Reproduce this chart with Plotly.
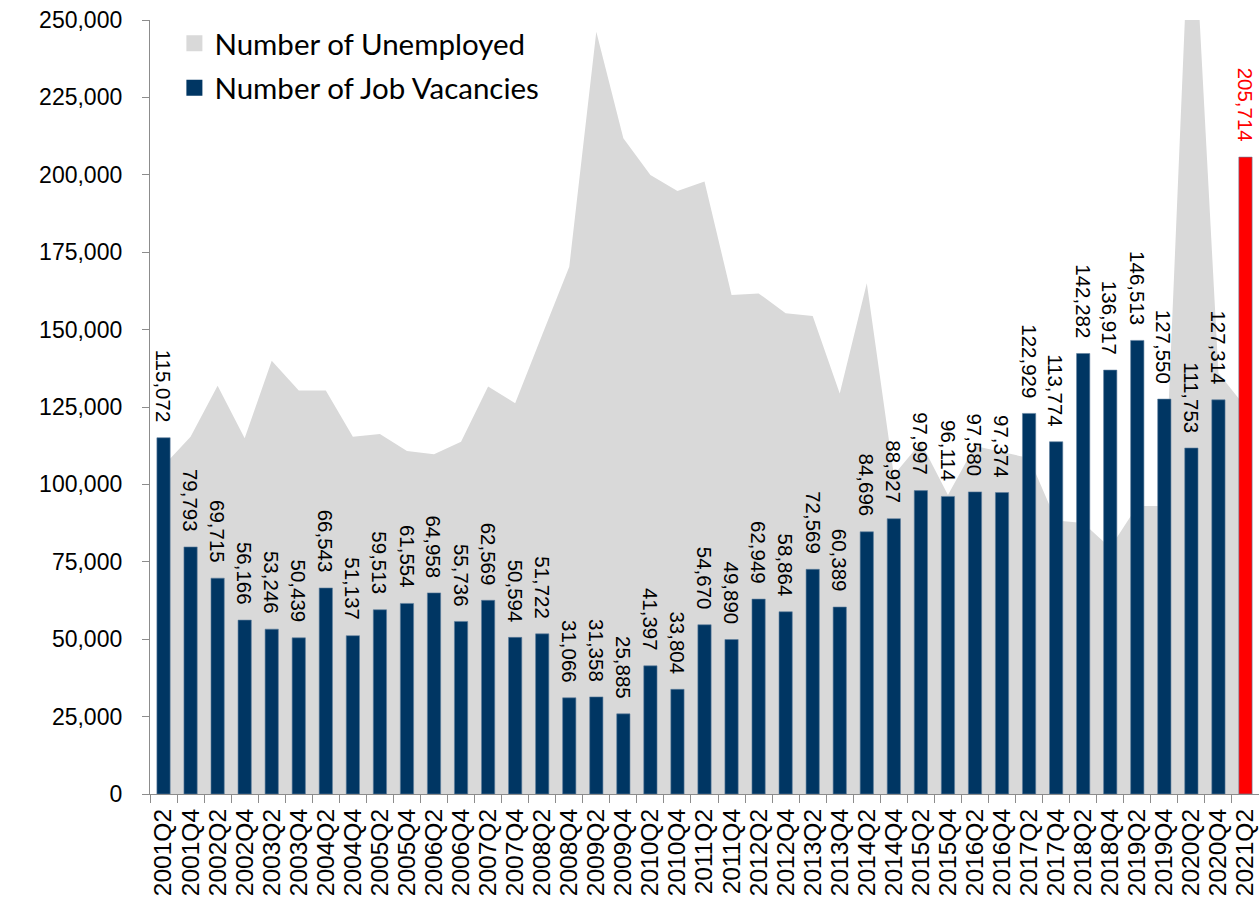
import plotly.graph_objects as go

categories = [
    "2001Q2", "2001Q4", "2002Q2", "2002Q4", "2003Q2", "2003Q4", "2004Q2", "2004Q4",
    "2005Q2", "2005Q4", "2006Q2", "2006Q4", "2007Q2", "2007Q4", "2008Q2", "2008Q4",
    "2009Q2", "2009Q4", "2010Q2", "2010Q4", "2011Q2", "2011Q4", "2012Q2", "2012Q4",
    "2013Q2", "2013Q4", "2014Q2", "2014Q4", "2015Q2", "2015Q4", "2016Q2", "2016Q4",
    "2017Q2", "2017Q4", "2018Q2", "2018Q4", "2019Q2", "2019Q4", "2020Q2", "2020Q4",
    "2021Q2",
]

job_vacancies = [
    115072, 79793, 69715, 56166, 53246, 50439, 66543, 51137,
    59513, 61554, 64958, 55736, 62569, 50594, 51722, 31066,
    31358, 25885, 41397, 33804, 54670, 49890, 62949, 58864,
    72569, 60389, 84696, 88927, 97997, 96114, 97580, 97374,
    122929, 113774, 142282, 136917, 146513, 127550, 111753, 127314,
    205714,
]

unemployed = [
    106000, 115400, 131900, 114900, 139900, 130300, 130300, 115400,
    116300, 110800, 109700, 113800, 131600, 126200, 148300, 170300,
    246200, 211800, 199900, 194800, 197800, 161200, 161700, 155300,
    154400, 129400, 165000, 103000, 113500, 96600, 112400, 110500,
    108500, 88300, 87500, 79500, 93000, 93000, 300000, 136000,
    125000,
]

y_tick_values = [0, 25000, 50000, 75000, 100000, 125000, 150000, 175000, 200000, 225000, 250000]
highlight_category = "2021Q2"

NAVY = "#003663"
RED = "#FF0000"
GREY = "#D9D9D9"
AXIS = "#8C8C8C"
FONT = "Arial, Liberation Sans, sans-serif"
Y_RANGE = [0, 250000]
X_RANGE = [-0.5, len(categories) - 0.5]

bar_colors = [RED if c == highlight_category else NAVY for c in categories]
label_colors = [RED if c == highlight_category else "#000000" for c in categories]

fig = go.Figure()

# area (base axes, drawn underneath)
fig.add_trace(go.Scatter(
    x=categories, y=unemployed, mode="lines", fill="tozeroy",
    line=dict(width=0, color=GREY), fillcolor=GREY,
    name="Number of Unemployed", showlegend=False, hoverinfo="x+y",
    xaxis="x", yaxis="y",
))

# bars on overlaying axes so they are drawn above the area
fig.add_trace(go.Bar(
    x=categories, y=job_vacancies,
    marker=dict(color=bar_colors, line=dict(width=0.6, color="#5f7f9e")),
    name="Number of Job Vacancies", showlegend=False,
    xaxis="x2", yaxis="y2",
))

# legend entries (square swatches)
fig.add_trace(go.Scatter(
    x=[None], y=[None], mode="markers",
    marker=dict(symbol="square", size=16, color=GREY),
    name="Number of Unemployed", legendgroup="u",
))
fig.add_trace(go.Scatter(
    x=[None], y=[None], mode="markers",
    marker=dict(symbol="square", size=16, color=NAVY),
    name="Number of Job Vacancies", legendgroup="v",
))

annotations = []
for c, v, col in zip(categories, job_vacancies, label_colors):
    annotations.append(dict(
        x=c, y=v, xref="x2", yref="y2", text=f"{v:,}", showarrow=False,
        textangle=90, yanchor="bottom", xanchor="center", yshift=13,
        font=dict(family=FONT, size=20.5, color=col),
    ))

fig.update_layout(
    width=1259, height=897,
    margin=dict(l=150, r=0, t=20, b=103),
    paper_bgcolor="white", plot_bgcolor="white",
    bargap=0.51,
    font=dict(family=FONT, color="#000000"),
    annotations=annotations,
    legend=dict(
        x=0.022, y=1.003, xanchor="left", yanchor="top",
        bgcolor="rgba(0,0,0,0)", font=dict(family="Lato, sans-serif", size=29.5, color="#000000"),
        traceorder="grouped", tracegroupgap=3,
    ),
    xaxis=dict(
        type="category", categoryorder="array", categoryarray=categories,
        tickmode="array", tickvals=categories, ticktext=categories,
        showline=True, linecolor=AXIS, linewidth=1.3,
        ticks="outside", tickson="boundaries", ticklen=8, tickcolor=AXIS, tickwidth=1.3,
        tickangle=-90, tickfont=dict(family=FONT, size=24.5, color="#000000"),
        ticklabelstandoff=4,
        showgrid=False, zeroline=False, range=X_RANGE,
    ),
    yaxis=dict(
        range=Y_RANGE, tickvals=y_tick_values, tickformat=",",
        showline=True, linecolor=AXIS, linewidth=1.3,
        ticks="outside", ticklen=7, tickcolor=AXIS, tickwidth=1.3,
        tickfont=dict(family=FONT, size=23, color="#000000"),
        ticklabelstandoff=15,
        showgrid=False, zeroline=False,
    ),
    xaxis2=dict(
        type="category", categoryorder="array", categoryarray=categories,
        overlaying="x", range=X_RANGE, visible=False,
    ),
    yaxis2=dict(
        overlaying="y", range=Y_RANGE, visible=False,
    ),
)

fig.write_html(
    "out.html",
    config={"displayModeBar": False},
    post_script="document.body.style.margin='0';",
)
